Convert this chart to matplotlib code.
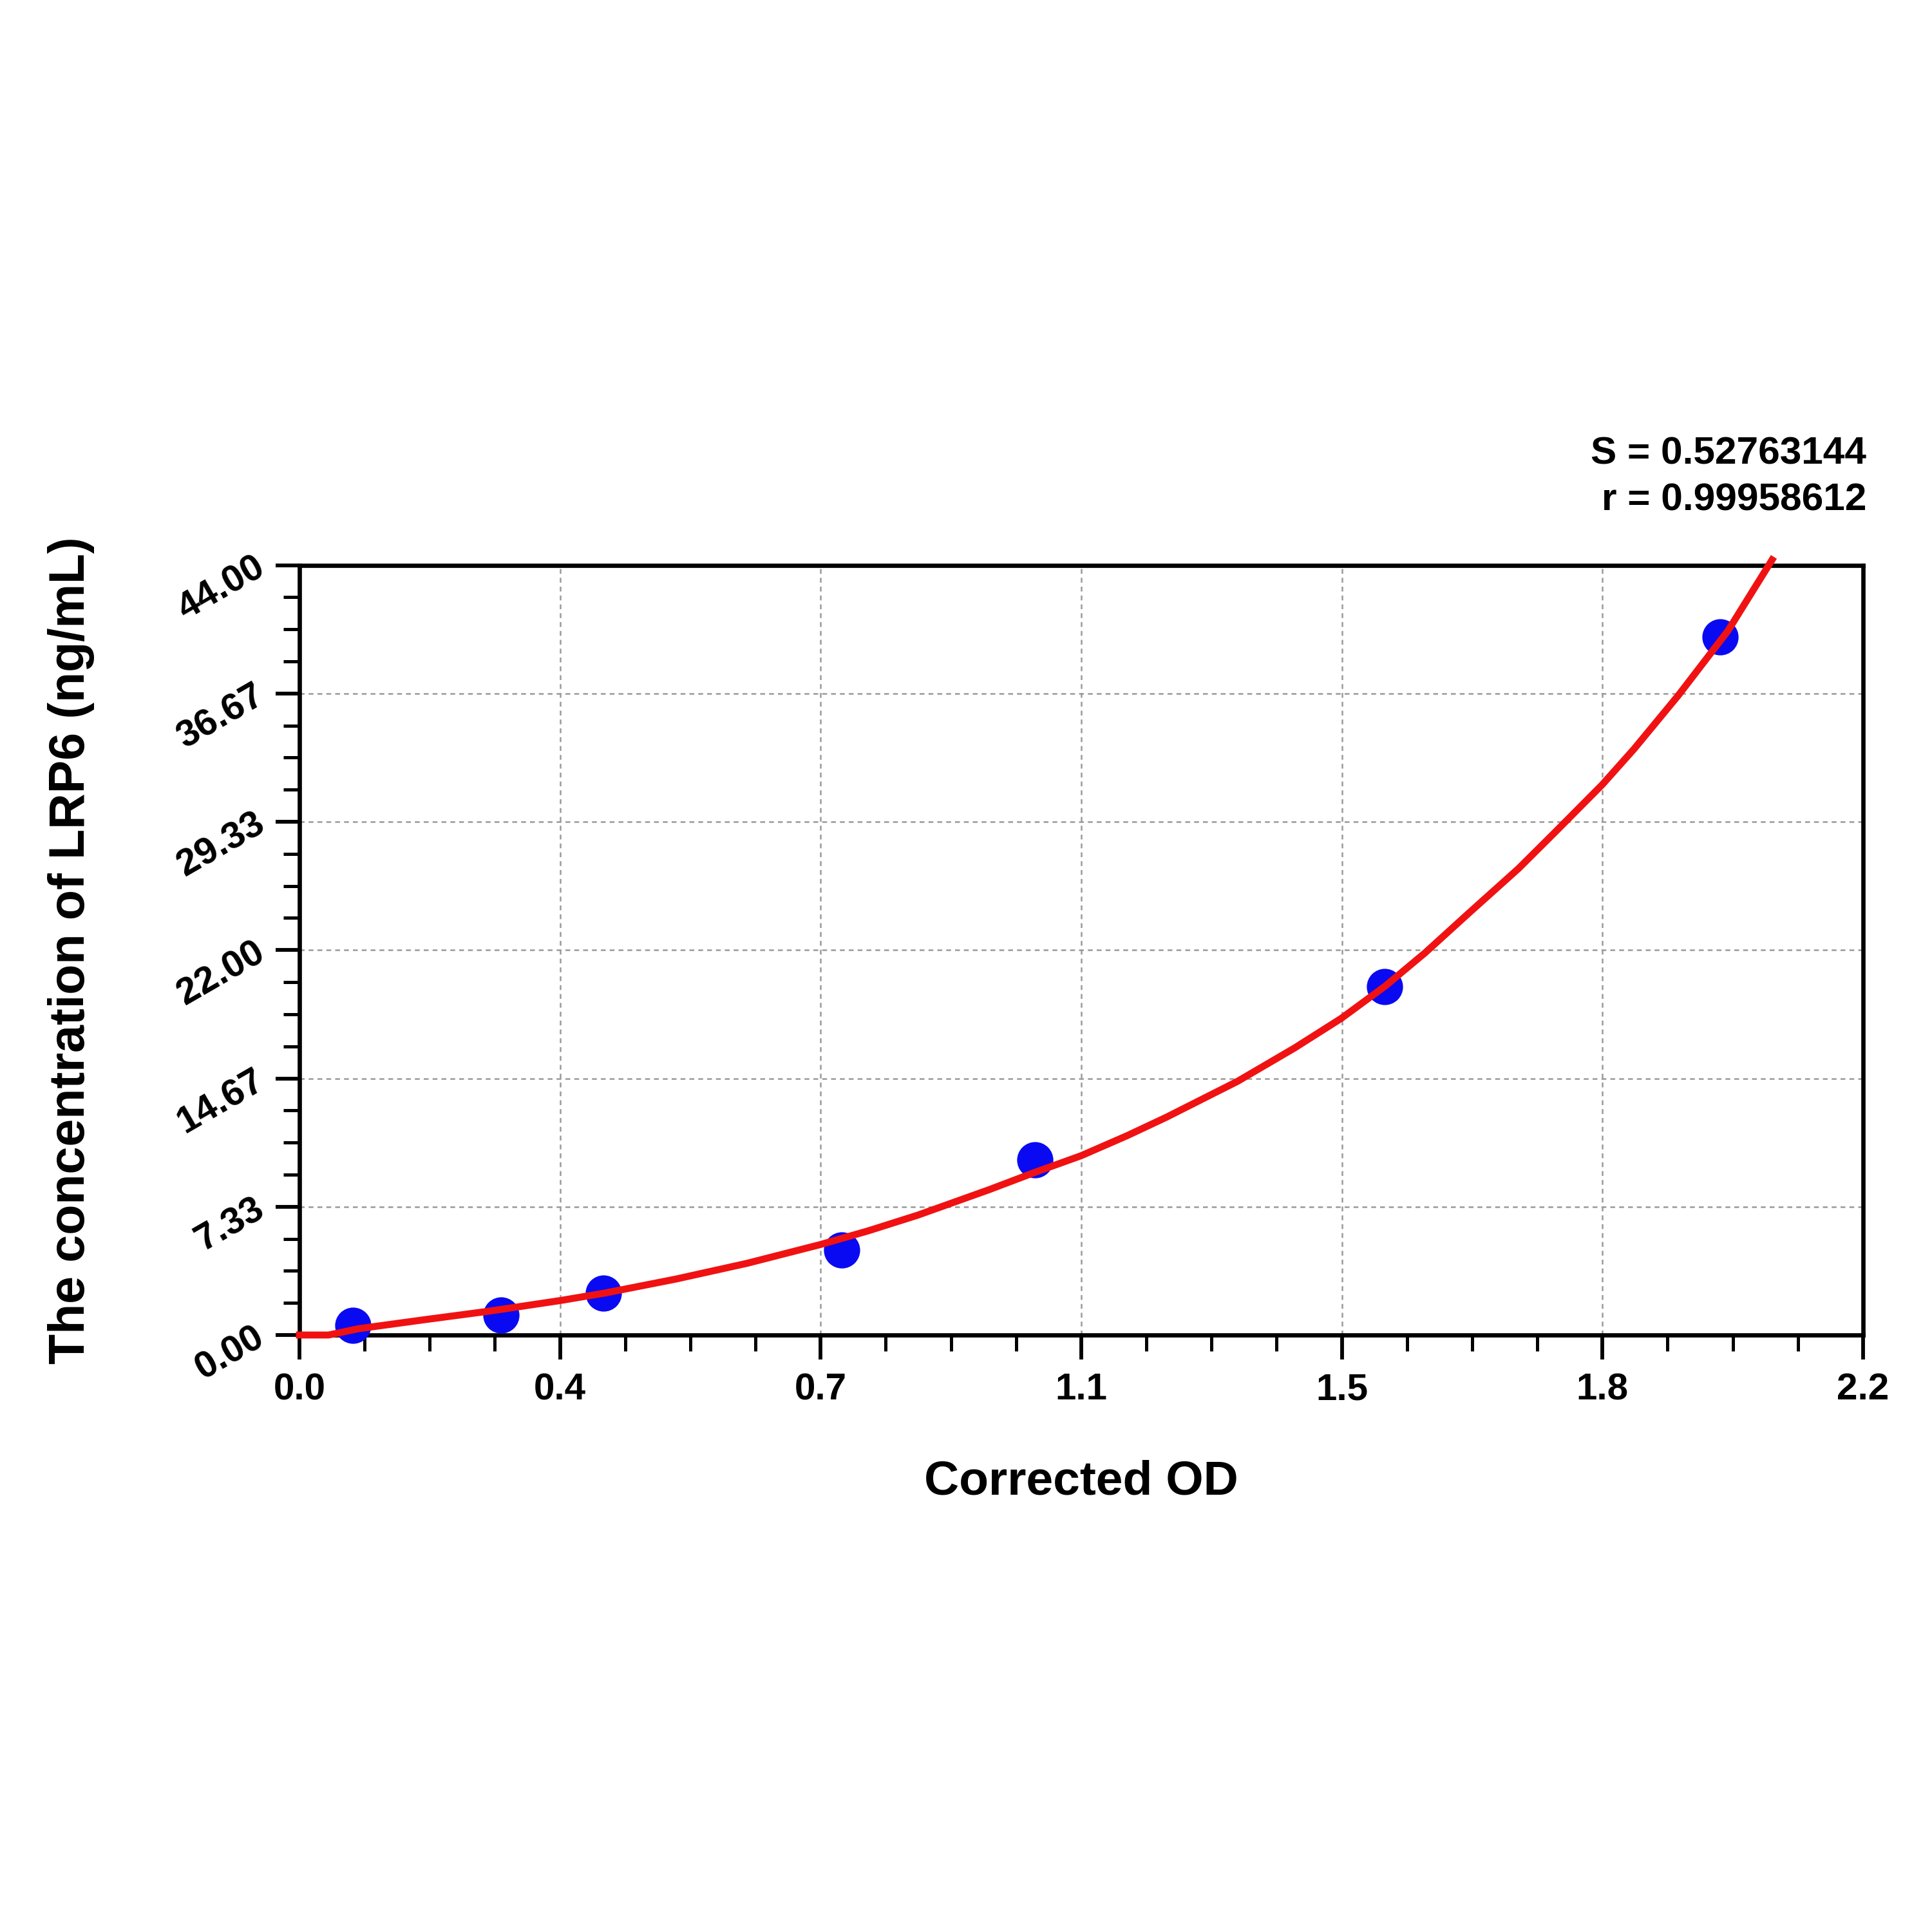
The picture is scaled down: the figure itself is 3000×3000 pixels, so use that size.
import numpy as np
import matplotlib
matplotlib.use('Agg')
import matplotlib.pyplot as plt
from matplotlib.ticker import AutoMinorLocator

# standards: corrected OD vs concentration
od = [0.075, 0.284, 0.428, 0.763, 1.035, 1.527, 1.999]
conc = [0.56, 1.13, 2.39, 4.86, 10.0, 19.9, 39.9]

# fitted curve
curve_x = [0.0, 0.041, 0.083, 0.175, 0.268, 0.367, 0.430, 0.530, 0.630, 0.733, 0.800,
           0.870, 0.970, 1.035, 1.100, 1.165, 1.220, 1.320, 1.400, 1.466, 1.528, 1.584,
           1.645, 1.715, 1.767, 1.833, 1.878, 1.940, 2.010, 2.072]
curve_y = [0.0, 0.0, 0.36, 0.87, 1.37, 1.97, 2.40, 3.20, 4.10, 5.17, 5.95,
           6.85, 8.30, 9.30, 10.25, 11.40, 12.45, 14.50, 16.40, 18.10, 19.95, 21.85,
           24.10, 26.65, 28.75, 31.45, 33.50, 36.55, 40.25, 44.30]

xtick_labels = ['0.0', '0.4', '0.7', '1.1', '1.5', '1.8', '2.2']
ytick_labels = ['0.00', '7.33', '14.67', '22.00', '29.33', '36.67', '44.00']
stats = ['S = 0.52763144', 'r = 0.99958612']

plt.rcParams['font.family'] = ['Liberation Sans', 'DejaVu Sans']
plt.rcParams['font.weight'] = 'bold'

fig = plt.figure(figsize=(10, 10), dpi=300)
ax = fig.add_axes([0.155, 0.309, 0.8093, 0.3985])

ax.plot(od, conc, 'o', color='#0a0af2', markersize=12.5, zorder=3, clip_on=False)
ax.plot(curve_x, curve_y, color='#f01212', linewidth=2.6, zorder=4, clip_on=False)

ax.set_xlim(0, 2.2)
ax.set_ylim(0, 44)
ax.set_xticks(np.linspace(0, 2.2, 7))
ax.set_xticklabels(xtick_labels)
ax.set_yticks(np.linspace(0, 44, 7))
ax.set_yticklabels(ytick_labels, rotation=30, ha='right', va='center', rotation_mode='anchor')
ax.xaxis.set_minor_locator(AutoMinorLocator(4))
ax.yaxis.set_minor_locator(AutoMinorLocator(4))

ax.tick_params(which='major', length=9, width=1.4, labelsize=14, direction='out')
ax.tick_params(which='minor', length=6, width=1.2, direction='out')
ax.tick_params(axis='x', which='major', pad=5)
ax.tick_params(axis='y', which='major', pad=5)
for lab in ax.get_xticklabels() + ax.get_yticklabels():
    lab.set_fontweight('bold')

for sp in ax.spines.values():
    sp.set_linewidth(1.6)

ax.grid(True, which='major', color='#9a9a9a', linestyle=(0, (3, 2.5)), linewidth=0.6)
ax.set_axisbelow(True)

fig.text(0.037, 0.508, 'The concentration of LRP6 (ng/mL)', rotation=90,
         ha='center', va='center', fontsize=18.5, fontweight='bold')
fig.text(0.5597, 0.233, 'Corrected OD', ha='center', va='center',
         fontsize=18, fontweight='bold')

narrow = ['Liberation Sans Narrow', 'Liberation Sans', 'DejaVu Sans']
fig.text(0.966, 0.765, stats[0], ha='right', va='center', fontsize=14.5,
         fontweight='bold', family=narrow)
fig.text(0.966, 0.741, stats[1], ha='right', va='center', fontsize=14.5,
         fontweight='bold', family=narrow)

fig.savefig('out.png', dpi=300, facecolor='white')
